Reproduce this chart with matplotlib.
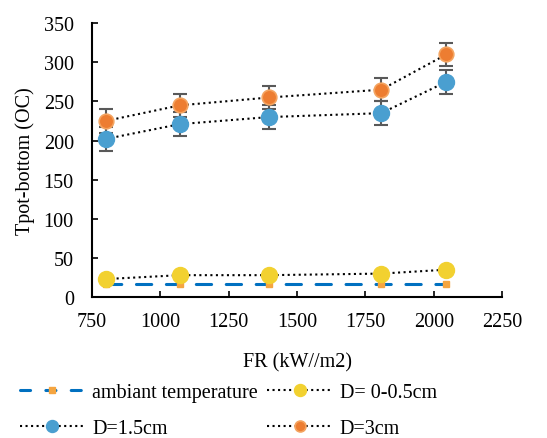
import matplotlib
matplotlib.use("Agg")
import matplotlib.pyplot as plt
from matplotlib.lines import Line2D

fr = [800, 1072, 1398, 1808, 2046]
ambient = [17, 17, 17, 17, 17]
d_small = [23, 28, 28, 30, 35]
d_15 = [202, 221, 230, 235, 275]
d_3 = [225, 245, 255, 265, 310]
err_15 = [15, 15, 15, 15, 15]
err_3 = [15, 15, 15, 15, 15]

xticks = [750, 1000, 1250, 1500, 1750, 2000, 2250]
yticks = [0, 50, 100, 150, 200, 250, 300, 350]

plt.rcParams['font.family'] = ['Liberation Serif', 'DejaVu Serif']
FS = 14.5

fig = plt.figure(figsize=(5.47, 4.39), dpi=100)
ax = fig.add_axes([0.168, 0.321, 0.750, 0.624])

ax.plot(fr, ambient, color='#0070C0', lw=2.2, dashes=(5, 4.8),
        dash_capstyle='round', marker='s', markersize=5,
        markerfacecolor='#F5A540', markeredgecolor='#F5A540', zorder=3)
h_small, = ax.plot(fr, d_small, color='black', lw=1.5, ls=':', marker='o',
                   markersize=11.5, markerfacecolor='#F2D130', markeredgecolor='#F2D130',
                   label='D= 0-0.5cm', zorder=4)
ax.errorbar(fr, d_15, yerr=err_15, fmt='none', ecolor='#595959', elinewidth=1.5,
            capsize=4.8, capthick=1.5, zorder=2)
ax.errorbar(fr, d_3, yerr=err_3, fmt='none', ecolor='#595959', elinewidth=1.5,
            capsize=4.8, capthick=1.5, zorder=2)
h_15, = ax.plot(fr, d_15, color='black', lw=1.5, ls=':', marker='o',
                markersize=11.5, markerfacecolor='#4A9FD0', markeredgecolor='#4A9FD0',
                label='D=1.5cm', zorder=4)
h_3, = ax.plot(fr, d_3, color='black', lw=1.5, ls=':', marker='o',
               markersize=10.5, markerfacecolor='#ED7D31', markeredgecolor='#F4A460',
               markeredgewidth=1.2, label='D=3cm', zorder=4)

h_amb = Line2D([], [], color='#0070C0', lw=2.2, ls=(0, (3.3, 5.0)),
               dash_capstyle='round', marker='s', markersize=5 / 0.75,
               markerfacecolor='#F5A540', markeredgecolor='#F5A540',
               label='ambiant temperature')

ax.set_xlim(750, 2250)
ax.set_ylim(0, 350)
ax.set_xticks(xticks)
ax.set_yticks(yticks)
ax.tick_params(axis='both', direction='in', length=4, width=1.2, labelsize=FS,
               colors='black')
ax.tick_params(axis='x', pad=11)
ax.tick_params(axis='y', pad=13)
for s in ['top', 'right']:
    ax.spines[s].set_visible(False)
for s in ['left', 'bottom']:
    ax.spines[s].set_linewidth(1.5)

ax.set_xlabel('FR (kW//m2)', fontsize=FS, labelpad=15)
ax.set_ylabel('Tpot-bottom (OC)', fontsize=FS, labelpad=6)

fig.legend(handles=[h_amb, h_15, h_small, h_3], loc='upper left',
           bbox_to_anchor=(0.036, 0.125), ncol=2, frameon=False, fontsize=FS,
           handlelength=3.25, handletextpad=0.35, columnspacing=0.45,
           labelspacing=0.85, borderaxespad=0, borderpad=0, markerscale=0.75)

fig.savefig('out.png', dpi=100)
